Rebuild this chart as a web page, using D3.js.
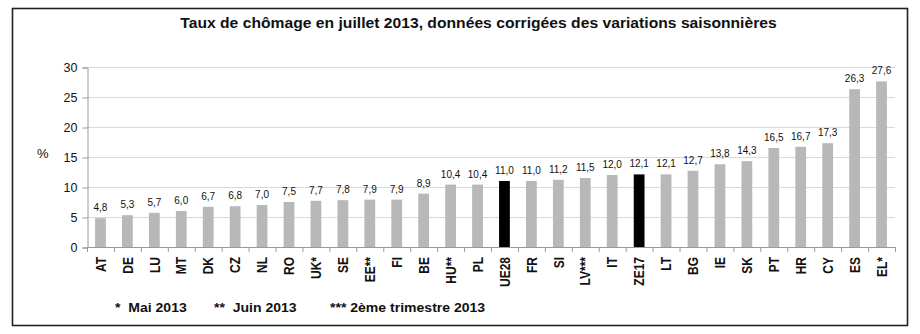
<!DOCTYPE html>
<html>
<head>
<meta charset="utf-8">
<script src="https://cdn.jsdelivr.net/npm/d3@7"></script>
<style>
  html, body { margin: 0; padding: 0; background: #fff; }
  svg { display: block; font-family: "Liberation Sans", Arial, sans-serif; }
</style>
</head>
<body>
<svg id="chart" width="920" height="334"></svg>
<script>
// Unemployment rate, July 2013, seasonally adjusted
const countries = ["AT","DE","LU","MT","DK","CZ","NL","RO","UK*","SE","EE**","FI","BE","HU**","PL","UE28","FR","SI","LV***","IT","ZE17","LT","BG","IE","SK","PT","HR","CY","ES","EL*"];
const rates = [4.8,5.3,5.7,6.0,6.7,6.8,7.0,7.5,7.7,7.8,7.9,7.9,8.9,10.4,10.4,11.0,11.0,11.2,11.5,12.0,12.1,12.1,12.7,13.8,14.3,16.5,16.7,17.3,26.3,27.6];
const aggregates = ["UE28","ZE17"];
const yTicks = [0,5,10,15,20,25,30];
const footnotes = ["*  Mai 2013", "**  Juin 2013", "*** 2ème trimestre 2013"];
const title = "Taux de chômage en juillet 2013, données corrigées des variations saisonnières";

const svg = d3.select("#chart");

// frame
svg.append("rect")
  .attr("x", 12.5).attr("y", 8.5)
  .attr("width", 895).attr("height", 317)
  .attr("fill", "#fff").attr("stroke", "#222").attr("stroke-width", 1.6);

svg.append("text")
  .attr("transform", "translate(478.5,28) scale(1.12,1)")
  .attr("text-anchor", "middle")
  .attr("font-size", 14).attr("font-weight", "bold")
  .attr("fill", "#111")
  .text(title);

const plotLeft = 87, plotRight = 895, plotTop = 67, plotBottom = 247;

const x = d3.scaleBand().domain(countries).range([plotLeft, plotRight]).paddingInner(0.6).paddingOuter(0.3);
const y = d3.scaleLinear().domain([0, 30]).range([plotBottom, plotTop]);

// horizontal grid
svg.append("g")
  .selectAll("line").data(yTicks.filter(d => d > 0)).join("line")
  .attr("x1", plotLeft).attr("x2", plotRight)
  .attr("y1", d => y(d) + 0.5).attr("y2", d => y(d) + 0.5)
  .attr("stroke", "#d9d9d9").attr("stroke-width", 1);

// y axis
const yAxis = svg.append("g")
  .attr("transform", `translate(${plotLeft + 0.5},0.5)`)
  .call(d3.axisLeft(y).tickValues(yTicks).tickSize(5).tickPadding(5));
yAxis.select(".domain").attr("stroke", "#999");
yAxis.selectAll(".tick line").attr("stroke", "#999");
yAxis.selectAll(".tick text").attr("font-size", 12.5).attr("fill", "#111")
  .attr("font-family", "Liberation Sans, Arial, sans-serif");

svg.append("text")
  .attr("x", 37).attr("y", 158)
  .attr("font-size", 13).attr("fill", "#111")
  .text("%");

// bars
svg.append("g")
  .selectAll("rect").data(countries).join("rect")
  .attr("x", d => x(d))
  .attr("width", x.bandwidth())
  .attr("y", (d, i) => y(rates[i]))
  .attr("height", (d, i) => plotBottom - y(rates[i]))
  .attr("fill", d => aggregates.includes(d) ? "#000" : "#b8b8b8");

// value labels
svg.append("g")
  .selectAll("text").data(countries).join("text")
  .attr("x", d => x(d) + x.bandwidth() / 2)
  .attr("y", (d, i) => y(rates[i]) - 7)
  .attr("text-anchor", "middle")
  .attr("font-size", 10).attr("fill", "#111")
  .text((d, i) => d3.format(".1f")(rates[i]).replace(".", ","));

// x axis line and separator ticks
svg.append("line")
  .attr("x1", plotLeft).attr("x2", plotRight)
  .attr("y1", plotBottom + 0.5).attr("y2", plotBottom + 0.5)
  .attr("stroke", "#999");
svg.append("g")
  .selectAll("line").data(d3.range(countries.length + 1)).join("line")
  .attr("x1", i => plotLeft + 0.5 + i * (plotRight - plotLeft) / countries.length)
  .attr("x2", i => plotLeft + 0.5 + i * (plotRight - plotLeft) / countries.length)
  .attr("y1", plotBottom).attr("y2", plotBottom + 5)
  .attr("stroke", "#999");

// category labels, rotated
svg.append("g")
  .selectAll("text").data(countries).join("text")
  .attr("transform", d => `translate(${x(d) + x.bandwidth() / 2 + 5.2},${plotBottom + 10}) rotate(-90) scale(1,1.2)`)
  .attr("text-anchor", "end")
  .attr("font-size", 12).attr("font-weight", "bold").attr("fill", "#111")
  .text(d => d);

// footnotes
const fx = [115, 214, 330];
svg.append("g")
  .selectAll("text").data(footnotes).join("text")
  .attr("transform", (d, i) => `translate(${fx[i]},312) scale(1.08,1)`)
  .attr("font-size", 13).attr("font-weight", "bold").attr("fill", "#111")
  .attr("xml:space", "preserve").style("white-space", "pre")
  .text(d => d);
</script>
</body>
</html>
